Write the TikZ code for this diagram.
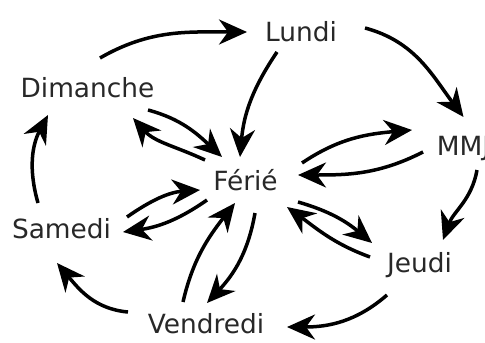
\documentclass[tikz,border=0pt]{standalone}
\usepackage{fontspec}
\setmainfont{DejaVu Sans}
\usetikzlibrary{arrows.meta}
\definecolor{txt}{RGB}{40,40,40}
\tikzset{
  day/.style={anchor=base, inner sep=0pt, text=txt, font=\fontsize{13.2pt}{15pt}\selectfont},
  arr/.style={line width=1.75pt, -{Stealth[length=14pt,width=12.5pt,inset=4.5pt]}},
}
\begin{document}
\begin{tikzpicture}[x=0.5pt,y=0.5pt]
\useasboundingbox (0,0) rectangle (485,-342);
\node[day] (dim) at (87.5,-97) {Dimanche};
\node[day] (lun) at (301,-42) {Lundi};
\node[day] (mmj) at (463.5,-155) {MMJ};
\node[day] (fer) at (245.5,-190) {Férié};
\node[day] (sam) at (61.5,-238) {Samedi};
\node[day] (jeu) at (419.5,-272) {Jeudi};
\node[day] (ven) at (206,-333) {Vendredi};
% outer cycle
\draw[arr] ([shift={(12.5,39)}]dim.base) to[out=30,in=180] ([shift={(-54,10)}]lun.base);
\draw[arr] ([shift={(64,14)}]lun.base) to[out=-15,in=127] ([shift={(0,38)}]mmj.base);
\draw[arr] ([shift={(13.5,-15)}]mmj.base) to[out=-100,in=70] ([shift={(23.5,32)}]jeu.base);
\draw[arr] ([shift={(-32.5,-23)}]jeu.base) to[out=-139,in=0] ([shift={(81,6)}]ven.base);
\draw[arr] ([shift={(-78,21)}]ven.base) to[out=175,in=-50] ([shift={(-4.5,-25)}]sam.base);
\draw[arr] ([shift={(-23.5,35)}]sam.base) to[out=106,in=-118] ([shift={(-39.5,-18)}]dim.base);
% spokes
\draw[arr] ([shift={(-24,-10)}]lun.base) to[out=-124,in=85] ([shift={(-5.5,33)}]fer.base);
\draw[arr] ([shift={(60.5,-13)}]dim.base) to[out=-15,in=137] ([shift={(-23.5,33)}]fer.base);
\draw[arr] ([shift={(-40.5,30)}]fer.base) to[out=155,in=-48] ([shift={(45.5,-21)}]dim.base);
\draw[arr] ([shift={(56.5,27)}]fer.base) to[out=34,in=185] ([shift={(-51.5,25)}]mmj.base);
\draw[arr] ([shift={(-40.5,3)}]mmj.base) to[out=-153,in=0] ([shift={(52.5,15)}]fer.base);
\draw[arr] ([shift={(52.5,-12)}]fer.base) to[out=-16,in=140] ([shift={(-47.5,29)}]jeu.base);
\draw[arr] ([shift={(-49.5,15)}]jeu.base) to[out=160,in=-36] ([shift={(41.5,-17)}]fer.base);
\draw[arr] ([shift={(9.5,-23)}]fer.base) to[out=-100,in=47] ([shift={(1,30)}]ven.base);
\draw[arr] ([shift={(-23,31)}]ven.base) to[out=77,in=-128] ([shift={(-10.5,-13)}]fer.base);
\draw[arr] ([shift={(-38.5,-10)}]fer.base) to[out=-145,in=8] ([shift={(61.5,6)}]sam.base);
\draw[arr] ([shift={(65.5,21)}]sam.base) to[out=35,in=184] ([shift={(-45.5,0)}]fer.base);
\end{tikzpicture}
\end{document}
